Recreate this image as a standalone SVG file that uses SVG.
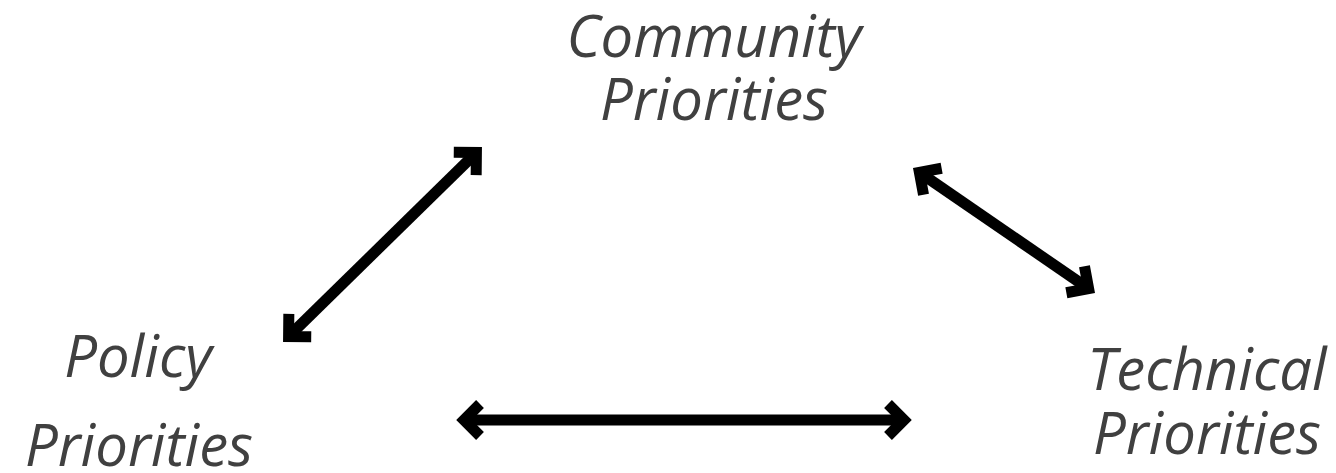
<svg xmlns="http://www.w3.org/2000/svg" width="1336" height="473" viewBox="0 0 1336 473">
  <style>
    .label { font-family: "Open Sans", "Noto Sans", "DejaVu Sans", sans-serif; font-style: italic; font-size: 58px; fill: #404040; text-anchor: middle; }
    .link { stroke: #000; stroke-width: 11; fill: none; }
  </style>
  <defs>
    <marker id="head" markerUnits="userSpaceOnUse" orient="auto-start-reverse" viewBox="-30 -30 40 60" markerWidth="40" markerHeight="60" refX="0" refY="0" overflow="visible">
      <path d="M-16,-16 L0,0 L-16,16" stroke="#000" stroke-width="11" fill="none" stroke-linejoin="miter"/>
    </marker>
  </defs>
  <rect width="1336" height="473" fill="#fff"/>
  <g id="community">
    <text class="label" x="714" y="57">Community</text>
    <text class="label" x="714" y="120">Priorities</text>
  </g>
  <g id="policy">
    <text class="label" x="138" y="377">Policy</text>
    <text class="label" x="139" y="466">Priorities</text>
  </g>
  <g id="technical">
    <text class="label" x="1207" y="390">Technical</text>
    <text class="label" x="1207" y="454">Priorities</text>
  </g>
  <g id="connectors">
    <line class="link" x1="288.6" y1="336.5" x2="476.4" y2="152.5" marker-start="url(#head)" marker-end="url(#head)"/>
    <line class="link" x1="919.4" y1="172.4" x2="1088.6" y2="288.6" marker-start="url(#head)" marker-end="url(#head)"/>
    <line class="link" x1="464" y1="420" x2="904" y2="420" marker-start="url(#head)" marker-end="url(#head)"/>
  </g>
</svg>
